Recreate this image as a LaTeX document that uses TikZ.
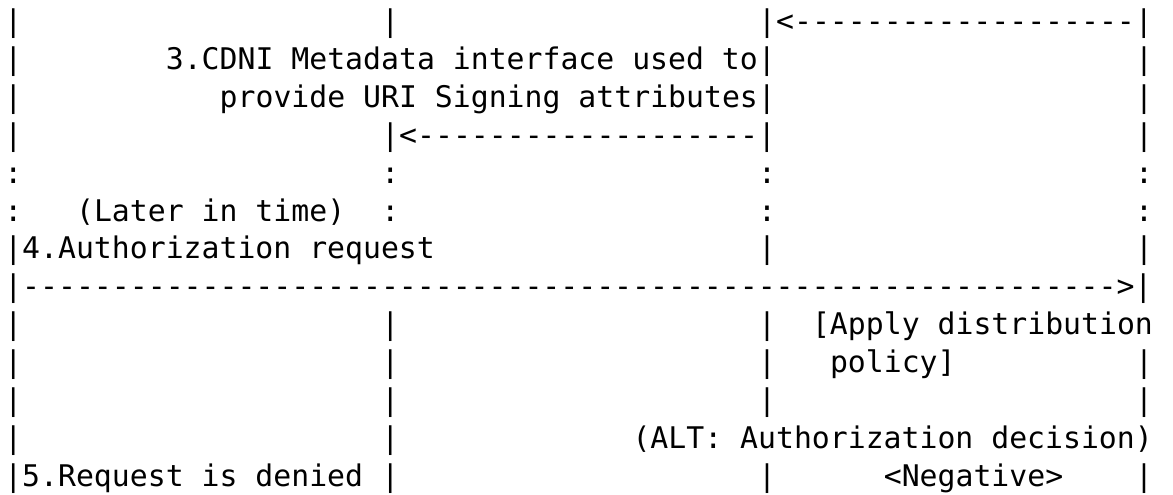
\documentclass[tikz,border=0pt]{standalone}
\usepackage{fontspec}
\setmonofont{DejaVu Sans Mono}
\tikzset{txt/.style={anchor=base west, inner sep=0pt, outer sep=0pt,
  font=\ttfamily\fontsize{14.9pt}{19pt}\selectfont, text=black}}
% #1 name, #2 column, #3 row, #4 text
\newcommand{\putc}[4]{\node[txt] (#1) at ({2.15pt+#2*8.975pt},{247pt-15.75pt-(#3-1)*18.95pt}) {#4};}
\begin{document}
\begin{tikzpicture}
\useasboundingbox (0,0) rectangle (586.5pt,247pt);
% row 1
\putc{r1a}{0}{1}{|}
\putc{r1b}{21}{1}{|}
\putc{r1c}{42}{1}{|<-------------------|}
% row 2
\putc{r2a}{0}{2}{|}
\putc{r2b}{9}{2}{3.CDNI Metadata interface used to|}
\putc{r2c}{63}{2}{|}
% row 3
\putc{r3a}{0}{3}{|}
\putc{r3b}{12}{3}{provide URI Signing attributes|}
\putc{r3c}{63}{3}{|}
% row 4
\putc{r4a}{0}{4}{|}
\putc{r4b}{21}{4}{|<-------------------|}
\putc{r4c}{63}{4}{|}
% row 5
\putc{r5a}{0}{5}{:}
\putc{r5b}{21}{5}{:}
\putc{r5c}{42}{5}{:}
\putc{r5d}{63}{5}{:}
% row 6
\putc{r6a}{0}{6}{:}
\putc{r6b}{4}{6}{(Later in time)}
\putc{r6c}{21}{6}{:}
\putc{r6d}{42}{6}{:}
\putc{r6e}{63}{6}{:}
% row 7
\putc{r7a}{0}{7}{|4.Authorization request}
\putc{r7b}{42}{7}{|}
\putc{r7c}{63}{7}{|}
% row 8
\putc{r8a}{0}{8}{|------------------------------------------------------------->|}
% row 9
\putc{r9a}{0}{9}{|}
\putc{r9b}{21}{9}{|}
\putc{r9c}{42}{9}{|}
\putc{r9d}{45}{9}{[Apply distribution}
% row 10
\putc{r10a}{0}{10}{|}
\putc{r10b}{21}{10}{|}
\putc{r10c}{42}{10}{|}
\putc{r10d}{46}{10}{policy]}
\putc{r10e}{63}{10}{|}
% row 11
\putc{r11a}{0}{11}{|}
\putc{r11b}{21}{11}{|}
\putc{r11c}{42}{11}{|}
\putc{r11d}{63}{11}{|}
% row 12
\putc{r12a}{0}{12}{|}
\putc{r12b}{21}{12}{|}
\putc{r12c}{35}{12}{(ALT: Authorization decision)}
% row 13
\putc{r13a}{0}{13}{|5.Request is denied}
\putc{r13b}{21}{13}{|}
\putc{r13c}{42}{13}{|}
\putc{r13d}{49}{13}{<Negative>}
\putc{r13e}{63}{13}{|}
\end{tikzpicture}
\end{document}
